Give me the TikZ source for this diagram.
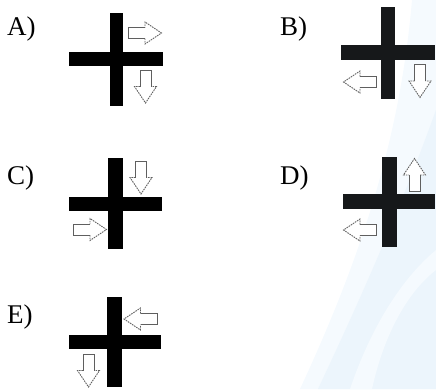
\documentclass[tikz,border=0pt]{standalone}
\usepackage{fontspec}
\setmainfont{Liberation Serif}
\definecolor{wmA}{RGB}{245,250,254}
\definecolor{wmB}{RGB}{236,245,252}
\definecolor{arrowgray}{RGB}{95,95,95}
\definecolor{barB}{RGB}{22,24,26}
\tikzset{
  lbl/.style={anchor=base west, inner sep=0pt, font=\fontsize{27}{30}\selectfont},
  shaftline/.style={draw=arrowgray, line width=0.85pt},
  headline/.style={draw=arrowgray, line width=0.85pt, dash pattern=on 1.6pt off 0.9pt},
}
\newcommand\hollowarr[3]{% x, y, angle
  \begin{scope}[shift={(#1,#2)}, rotate=#3]
    \fill[white] (-16.5,5.5) -- (0,5.5) -- (0,11) -- (16.5,0) -- (0,-11) -- (0,-5.5) -- (-16.5,-5.5) -- cycle;
    \draw[shaftline] (0,5.5) -- (-16.5,5.5) -- (-16.5,-5.5) -- (0,-5.5);
    \draw[headline] (0,5.5) -- (0,11) -- (16.5,0) -- (0,-11) -- (0,-5.5);
  \end{scope}}
\newcommand\crossmark[9]{% vx1 vx2 vy1 vy2 hx1 hx2 hy1 hy2 colour
  \fill[#9] (#1,#3) rectangle (#2,#4);
  \fill[#9] (#5,#7) rectangle (#6,#8);}
\begin{document}
\begin{tikzpicture}[x=1pt,y=-1pt]
\useasboundingbox (0,0) rectangle (436,389);
% faint watermark
\fill[wmA] (412,0) .. controls (400,140) and (360,260) .. (300,389) -- (436,389) -- (436,0) -- cycle;
\fill[wmB] (436,110) .. controls (400,210) and (360,300) .. (318,389) -- (436,389) -- cycle;
\fill[wmA] (436,250) .. controls (400,280) and (370,330) .. (350,389) -- (372,389) .. controls (385,330) and (410,290) .. (436,270) -- cycle;
% labels
\node[lbl] (la) at (7,35) {A)};
\node[lbl] (lb) at (280,35) {B)};
\node[lbl] (lc) at (7,184) {C)};
\node[lbl] (ld) at (280,184) {D)};
\node[lbl] (le) at (7,323) {E)};
% crosses
\crossmark{110}{123}{13}{106}{69}{163}{52}{66}{black}
\crossmark{381}{395}{7}{99}{341}{435}{45}{60}{barB}
\crossmark{108}{123}{158}{249}{69}{162}{197}{211}{black}
\crossmark{382}{397}{157}{247}{343}{435}{194}{209}{barB}
\crossmark{107}{122}{297}{387}{69}{161}{335}{349}{black}
% arrows
\hollowarr{145}{33}{0}
\hollowarr{145.5}{86.5}{270}
\hollowarr{360}{82}{180}
\hollowarr{420}{81}{270}
\hollowarr{141}{177.5}{270}
\hollowarr{90}{229.5}{0}
\hollowarr{414.5}{175}{90}
\hollowarr{360}{230}{180}
\hollowarr{140.5}{319}{180}
\hollowarr{88.5}{370.5}{270}
\end{tikzpicture}
\end{document}
